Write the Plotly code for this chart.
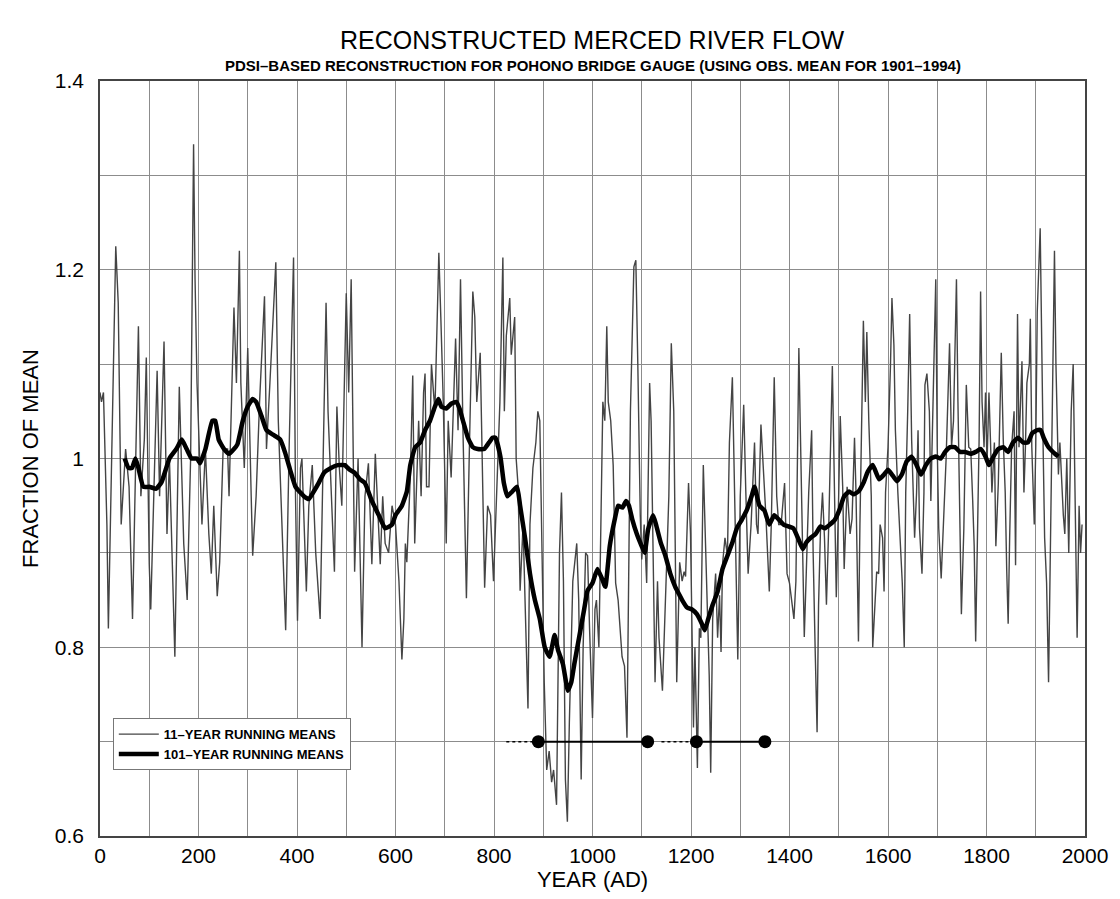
import plotly.graph_objects as go

# 11-year running means (year AD, fraction of 1901-1994 observed mean)
years_11 = [0, 3, 7, 14, 17, 22, 28, 32, 37, 43, 52, 59, 66, 78, 83, 90, 94, 100, 103, 110,
            116, 121, 130, 136, 141, 152, 161, 170, 177, 184, 190, 193, 197, 207, 214, 221, 226, 231, 238, 243,
            250, 259, 262, 272, 277, 283, 286, 293, 300, 307, 310, 317, 324, 334, 338, 345, 357, 362, 369, 377,
            384, 393, 397, 401, 407, 410, 419, 424, 431, 438, 447, 452, 459, 463, 469, 476, 481, 486, 491, 500,
            505, 510, 517, 524, 532, 538, 545, 552, 559, 569, 574, 579, 586, 593, 600, 603, 607, 613, 617, 620,
            623, 630, 635, 639, 647, 652, 657, 660, 663, 668, 673, 680, 688, 692, 697, 703, 707, 713, 722, 727,
            732, 737, 744, 750, 757, 761, 765, 772, 777, 781, 787, 793, 799, 807, 812, 818, 821, 825, 832, 835,
            842, 845, 849, 853, 859, 863, 869, 873, 879, 885, 889, 893, 898, 902, 907, 912, 917, 921, 927, 930,
            933, 937, 941, 945, 949, 953, 957, 960, 968, 972, 977, 981, 986, 990, 994, 1000, 1005, 1008, 1013, 1016,
            1021, 1025, 1029, 1032, 1037, 1042, 1047, 1052, 1057, 1060, 1065, 1070, 1074, 1077, 1084, 1088, 1092, 1097, 1100, 1105,
            1110, 1113, 1116, 1119, 1123, 1127, 1132, 1135, 1142, 1145, 1150, 1155, 1160, 1165, 1168, 1171, 1177, 1182, 1186, 1189,
            1195, 1199, 1202, 1205, 1208, 1213, 1217, 1220, 1225, 1229, 1233, 1237, 1240, 1244, 1250, 1254, 1258, 1261, 1264, 1269,
            1274, 1278, 1284, 1287, 1290, 1295, 1300, 1303, 1307, 1311, 1316, 1322, 1329, 1333, 1336, 1342, 1348, 1352, 1359, 1363,
            1369, 1374, 1378, 1383, 1390, 1395, 1400, 1405, 1409, 1413, 1419, 1422, 1426, 1430, 1434, 1439, 1445, 1448, 1452, 1456,
            1459, 1463, 1467, 1471, 1475, 1480, 1487, 1492, 1495, 1500, 1503, 1508, 1511, 1517, 1523, 1527, 1532, 1535, 1540, 1543,
            1546, 1550, 1554, 1557, 1561, 1566, 1569, 1577, 1581, 1584, 1589, 1592, 1595, 1600, 1605, 1608, 1612, 1615, 1620, 1625,
            1629, 1633, 1636, 1640, 1644, 1648, 1651, 1654, 1658, 1661, 1664, 1669, 1673, 1675, 1679, 1684, 1687, 1690, 1697, 1700,
            1703, 1708, 1713, 1718, 1725, 1729, 1733, 1739, 1742, 1746, 1749, 1754, 1759, 1764, 1768, 1772, 1775, 1778, 1782, 1785,
            1788, 1791, 1795, 1798, 1801, 1805, 1808, 1811, 1816, 1819, 1824, 1830, 1834, 1838, 1841, 1844, 1847, 1851, 1856, 1859,
            1863, 1866, 1872, 1876, 1879, 1882, 1887, 1889, 1892, 1897, 1900, 1903, 1909, 1911, 1915, 1918, 1922, 1926, 1930, 1933,
            1938, 1941, 1946, 1949, 1953, 1956, 1959, 1963, 1967, 1972, 1976, 1980, 1984, 1988, 1991, 1994]
flow_11 = [1.07, 1.06, 1.07, 0.93, 0.82, 0.95, 1.10, 1.225, 1.165, 0.93, 1.01, 0.97, 0.83, 1.14, 0.96, 1.02, 1.107, 0.888, 0.84, 0.97,
           1.093, 0.96, 1.124, 0.92, 1.00, 0.79, 1.076, 0.91, 0.85, 1.00, 1.333, 1.19, 1.08, 0.93, 1.01, 0.92, 0.878, 0.95, 0.854, 0.89,
           1.01, 1.01, 0.96, 1.16, 1.08, 1.22, 1.08, 0.99, 1.117, 0.96, 0.897, 0.96, 1.06, 1.172, 1.01, 1.08, 1.208, 1.04, 0.93, 0.818,
           1.01, 1.213, 0.96, 0.828, 0.99, 1.0, 0.859, 0.95, 0.993, 0.90, 0.83, 0.96, 1.165, 1.05, 0.97, 0.88, 1.055, 0.99, 0.95, 1.175,
           1.07, 1.19, 0.88, 1.0, 0.80, 0.96, 0.995, 0.888, 1.005, 0.888, 0.96, 0.91, 0.90, 0.95, 0.93, 0.90, 0.87, 0.787, 0.83, 0.91,
           0.89, 0.98, 1.088, 0.91, 1.04, 0.96, 1.07, 1.09, 0.97, 0.97, 1.10, 1.05, 1.218, 1.15, 1.06, 0.91, 1.04, 0.98, 1.127, 1.03,
           1.19, 1.03, 0.852, 1.01, 1.177, 1.15, 1.06, 1.112, 0.96, 0.863, 0.95, 0.94, 0.87, 1.0, 1.06, 1.213, 1.05, 1.13, 1.17, 1.11,
           1.15, 1.0, 0.97, 0.86, 0.93, 0.85, 0.735, 0.93, 0.99, 1.017, 1.05, 1.04, 0.90, 0.763, 0.67, 0.69, 0.657, 0.67, 0.633, 0.77,
           0.90, 0.964, 0.87, 0.66, 0.615, 0.72, 0.81, 0.87, 0.91, 0.85, 0.66, 0.80, 0.90, 0.897, 0.82, 0.725, 0.84, 0.85, 0.80, 0.92,
           1.06, 1.04, 1.14, 1.06, 1.04, 0.993, 0.868, 0.85, 0.81, 0.79, 0.78, 0.704, 0.90, 1.05, 1.203, 1.21, 1.10, 0.94, 0.893, 0.93,
           0.868, 0.98, 1.08, 1.04, 0.87, 0.763, 0.87, 0.81, 0.754, 0.81, 0.88, 0.96, 1.122, 1.05, 0.92, 0.763, 0.89, 0.87, 0.88, 0.875,
           0.974, 0.92, 0.82, 0.715, 0.80, 0.672, 0.82, 0.81, 0.993, 0.92, 0.83, 0.77, 0.667, 0.83, 0.878, 0.81, 0.855, 0.795, 0.888, 0.916,
           0.897, 1.017, 1.086, 1.0, 0.92, 0.787, 0.96, 1.012, 1.057, 0.97, 0.878, 0.93, 1.017, 0.93, 0.92, 1.036, 0.983, 0.94, 0.859, 0.93,
           1.086, 0.96, 0.93, 0.93, 0.974, 0.878, 0.868, 0.845, 0.83, 0.87, 1.117, 1.03, 0.92, 0.811, 0.878, 0.964, 1.03, 0.90, 0.80, 0.71,
           0.845, 0.926, 0.964, 0.916, 0.845, 0.935, 1.098, 0.916, 0.853, 0.964, 1.045, 0.97, 0.883, 0.97, 0.92, 0.936, 1.022, 0.965, 0.806, 0.93,
           1.01, 1.146, 1.06, 1.134, 1.04, 0.96, 0.80, 0.88, 0.878, 0.93, 0.916, 0.859, 0.964, 1.012, 1.098, 1.17, 1.12, 1.03, 0.964, 0.916,
           0.868, 0.80, 0.964, 1.05, 1.153, 1.02, 0.974, 0.916, 0.964, 1.03, 0.926, 0.878, 0.964, 1.078, 1.09, 1.05, 0.955, 1.02, 1.19, 1.012,
           0.926, 0.873, 0.94, 1.0, 1.122, 1.012, 1.04, 1.19, 1.06, 0.916, 0.835, 0.926, 1.078, 1.012, 1.01, 0.955, 0.907, 0.806, 0.916, 1.02,
           1.177, 1.06, 1.012, 1.07, 0.993, 1.07, 1.02, 0.964, 1.017, 0.907, 0.974, 1.112, 1.02, 0.964, 0.883, 0.825, 0.916, 1.012, 1.05, 0.887,
           1.153, 1.012, 1.103, 0.964, 1.012, 1.08, 1.10, 1.148, 1.012, 0.93, 1.012, 1.155, 1.244, 1.146, 1.012, 0.916, 0.868, 0.763, 0.916, 1.012,
           1.22, 1.10, 0.983, 1.017, 0.964, 0.94, 0.92, 1.0, 0.90, 1.05, 1.10, 0.95, 0.81, 0.95, 0.90, 0.93]

# 101-year running means
years_101 = [50, 58, 65, 72, 78, 88, 100, 114, 125, 141, 155, 166, 176, 186, 197, 203, 214, 228, 234, 241,
             252, 262, 272, 279, 290, 300, 310, 317, 328, 338, 352, 366, 376, 386, 397, 414, 424, 434, 445, 455,
             469, 483, 497, 507, 517, 528, 538, 552, 566, 579, 593, 600, 613, 623, 630, 640, 650, 660, 670, 680,
             687, 693, 703, 713, 723, 730, 737, 747, 757, 767, 780, 790, 797, 803, 813, 820, 827, 837, 847, 853,
             863, 873, 883, 893, 903, 913, 923, 930, 940, 950, 957, 963, 973, 983, 990, 1000, 1010, 1019, 1026, 1035,
             1045, 1052, 1061, 1068, 1074, 1081, 1090, 1100, 1106, 1113, 1123, 1129, 1139, 1148, 1158, 1168, 1177, 1182, 1192, 1202,
             1212, 1222, 1228, 1235, 1244, 1254, 1264, 1274, 1284, 1293, 1303, 1313, 1323, 1329, 1339, 1349, 1359, 1369, 1379, 1388,
             1398, 1408, 1417, 1427, 1434, 1443, 1453, 1463, 1472, 1482, 1492, 1501, 1511, 1521, 1530, 1540, 1550, 1559, 1569, 1582,
             1592, 1600, 1608, 1618, 1628, 1638, 1648, 1658, 1667, 1677, 1687, 1697, 1707, 1716, 1726, 1736, 1746, 1756, 1768, 1778,
             1788, 1798, 1805, 1814, 1824, 1834, 1844, 1854, 1864, 1874, 1884, 1893, 1903, 1910, 1916, 1926, 1933, 1939, 1946]
flow_101 = [1.0, 0.99, 0.99, 1.0, 0.99, 0.97, 0.97, 0.968, 0.975, 1.0, 1.01, 1.02, 1.01, 1.0, 1.0, 0.995, 1.01, 1.04, 1.04, 1.02,
            1.01, 1.005, 1.01, 1.015, 1.04, 1.055, 1.063, 1.06, 1.045, 1.03, 1.025, 1.02, 1.006, 0.988, 0.97, 0.96, 0.957, 0.965, 0.975, 0.985,
            0.99, 0.993, 0.993, 0.988, 0.985, 0.978, 0.974, 0.955, 0.94, 0.926, 0.93, 0.94, 0.95, 0.965, 0.993, 1.012, 1.017, 1.03, 1.04, 1.055,
            1.063, 1.055, 1.053, 1.058, 1.06, 1.053, 1.04, 1.022, 1.012, 1.01, 1.01, 1.017, 1.022, 1.022, 1.002, 0.974, 0.96, 0.965, 0.97, 0.95,
            0.916, 0.878, 0.85, 0.83, 0.80, 0.79, 0.813, 0.797, 0.782, 0.754, 0.763, 0.782, 0.811, 0.84, 0.86, 0.868, 0.883, 0.873, 0.864, 0.907,
            0.935, 0.95, 0.948, 0.955, 0.95, 0.935, 0.92, 0.907, 0.90, 0.925, 0.94, 0.93, 0.91, 0.897, 0.878, 0.864, 0.855, 0.85, 0.842, 0.84,
            0.835, 0.825, 0.818, 0.83, 0.845, 0.859, 0.883, 0.897, 0.911, 0.926, 0.935, 0.945, 0.96, 0.97, 0.95, 0.945, 0.93, 0.94, 0.935, 0.93,
            0.928, 0.926, 0.916, 0.904, 0.911, 0.916, 0.92, 0.928, 0.926, 0.93, 0.935, 0.945, 0.96, 0.965, 0.962, 0.965, 0.974, 0.986, 0.993, 0.978,
            0.983, 0.988, 0.983, 0.976, 0.983, 0.997, 1.002, 0.993, 0.983, 0.993, 1.0, 1.002, 1.0, 1.007, 1.012, 1.012, 1.007, 1.007, 1.005, 1.007,
            1.01, 1.002, 0.993, 1.002, 1.01, 1.012, 1.007, 1.017, 1.022, 1.017, 1.017, 1.027, 1.03, 1.03, 1.022, 1.012, 1.008, 1.005, 1.002]

# Dry-period markers at the 0.7 level: dotted lead-in, then solid span between dots
lead_starts = [825, 1140]
period_starts = [890, 1211]
period_ends = [1112, 1350]
marker_level = 0.7

FONT = "Liberation Sans, Arial, sans-serif"

fig = go.Figure()

fig.add_trace(go.Scatter(
    x=years_11, y=flow_11, mode="lines", name="<b>11–YEAR RUNNING MEANS</b>",
    line=dict(color="#444444", width=1.4),
))
fig.add_trace(go.Scatter(
    x=years_101, y=flow_101, mode="lines", name="<b>101–YEAR RUNNING MEANS</b>",
    line=dict(color="black", width=4.5, shape="spline", smoothing=0.4),
))

for lead, start, end in zip(lead_starts, period_starts, period_ends):
    fig.add_trace(go.Scatter(
        x=[lead, start], y=[marker_level, marker_level], mode="lines",
        line=dict(color="black", width=1.5, dash="dot"), showlegend=False, hoverinfo="skip",
    ))
    fig.add_trace(go.Scatter(
        x=[start, end], y=[marker_level, marker_level], mode="lines+markers",
        line=dict(color="black", width=2), marker=dict(color="black", size=13),
        showlegend=False, hoverinfo="skip",
    ))

grid_col = "#8c8c8c"
fig.update_xaxes(
    range=[0, 2000], dtick=200, tick0=0,
    showgrid=True, gridcolor=grid_col, gridwidth=1,
    minor=dict(dtick=100, showgrid=True, gridcolor=grid_col, gridwidth=1),
    showline=True, linecolor="#444", linewidth=1.5, mirror=True,
    ticks="", zeroline=False,
    tickfont=dict(family=FONT, size=21, color="black"),
    title=dict(text="YEAR (AD)", font=dict(family=FONT, size=22, color="black"), standoff=4),
)
fig.update_yaxes(
    range=[0.6, 1.4], tickvals=[0.6, 0.8, 1.0, 1.2, 1.4], ticktext=["0.6", "0.8", "1", "1.2", "1.4"],
    showgrid=True, gridcolor=grid_col, gridwidth=1,
    minor=dict(dtick=0.1, showgrid=True, gridcolor=grid_col, gridwidth=1),
    showline=True, linecolor="#444", linewidth=1.5, mirror=True,
    ticks="", zeroline=False, ticklabelstandoff=10,
    tickfont=dict(family=FONT, size=21, color="black"),
    title=dict(text="FRACTION OF MEAN", font=dict(family=FONT, size=22, color="black"), standoff=10),
)

fig.add_annotation(
    text="RECONSTRUCTED MERCED RIVER FLOW", xref="paper", yref="paper",
    x=0.5, y=1.0, yshift=41, showarrow=False, xanchor="center", yanchor="middle",
    font=dict(family=FONT, size=25, color="black"),
)
fig.add_annotation(
    text="<b>PDSI–BASED RECONSTRUCTION FOR POHONO BRIDGE GAUGE (USING OBS. MEAN FOR 1901–1994)</b>",
    xref="paper", yref="paper", x=0.5, y=1.0, yshift=16, showarrow=False,
    xanchor="center", yanchor="middle",
    font=dict(family=FONT, size=15, color="black"),
)

fig.update_layout(
    width=1120, height=899,
    margin=dict(l=100, r=29, t=81, b=63),
    paper_bgcolor="white", plot_bgcolor="white",
    showlegend=True,
    legend=dict(
        x=0.013, y=0.156, xanchor="left", yanchor="top",
        bgcolor="white", bordercolor="#777", borderwidth=1,
        font=dict(family=FONT, size=13, color="black"),
        tracegroupgap=0, itemwidth=40,
    ),
)

fig.write_html("out.html")
